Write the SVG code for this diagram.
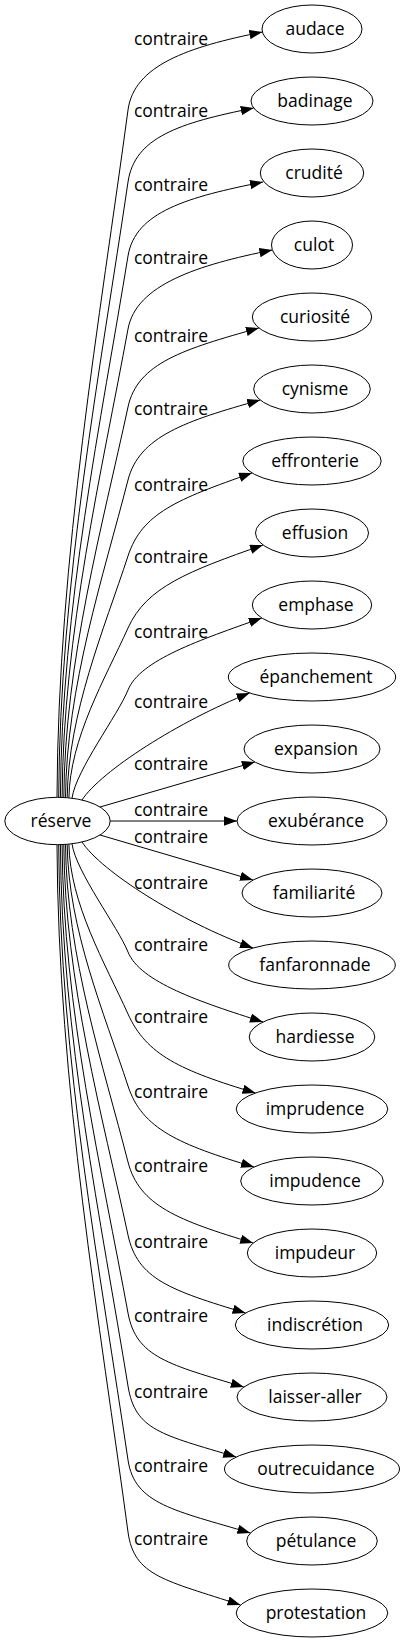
<svg xmlns="http://www.w3.org/2000/svg" width="404" height="1643" viewBox="0 0 404 1643">
<style>
.node ellipse{fill:#fff;stroke:#000;stroke-width:1}
text{font-family:"Open Sans","Noto Sans",sans-serif;font-size:17.5px;text-anchor:middle;fill:#000}
#edges path{fill:none;stroke:#000;stroke-width:1;marker-end:url(#arrow)}
</style>
<defs>
<marker id="arrow" markerUnits="userSpaceOnUse" markerWidth="14" markerHeight="10" refX="13" refY="4.7" orient="auto"><path d="M0,0 L13,4.7 L0,9.4 Z" fill="#000"/></marker>
</defs>
<rect width="404" height="1643" fill="#fff"/>
<g id="edges">
<g id="e0"><path d="M57,797.3 C58,556.7 100.4,316.2 128,110 C134,65.4 187.4,47 262.4,32"/><text x="171" y="45">contraire</text></g>
<g id="e1"><path d="M58.7,797.3 C59.7,581.9 101,366.6 128,182 C134.5,137.5 178.7,123 253.7,108"/><text x="171" y="117">contraire</text></g>
<g id="e2"><path d="M60.4,797.3 C61.4,607.9 101.7,418.4 128,256 C135.2,211.6 188,197 263,182"/><text x="171" y="191">contraire</text></g>
<g id="e3"><path d="M62.1,797.4 C63.1,633.5 102.3,469.5 128,329 C136.1,284.7 197.4,265 272.4,250"/><text x="171" y="264">contraire</text></g>
<g id="e4"><path d="M63.8,797.5 C64.8,660.8 102.9,524.2 128,407 C137.4,363 183.9,349 258.9,328"/><text x="171" y="342">contraire</text></g>
<g id="e5"><path d="M65.5,797.6 C66.5,686.4 103.6,575.3 128,480 C139.2,436.4 185.2,421 260.2,400"/><text x="171" y="415">contraire</text></g>
<g id="e6"><path d="M67.2,797.7 C68.2,713.1 104.3,628.5 128,556 C142,513.2 177,499.3 252,473"/><text x="171" y="491">contraire</text></g>
<g id="e7"><path d="M68.9,797.9 C69.9,738.4 104.9,679 128,628 C146.5,587 188,571.3 263,545"/><text x="171" y="563">contraire</text></g>
<g id="e8"><path d="M72,798.2 C76,770 118,715 128,690 C140,660 200,640 261.8,618"/><text x="171" y="638">contraire</text></g>
<g id="e9"><path d="M82,800 C101,771 179,721 249.6,693"/><text x="171" y="708">contraire</text></g>
<g id="e10"><path d="M100,807 L254.9,762"/><text x="171" y="770">contraire</text></g>
<g id="e11"><path d="M110.2,821 L237,821"/><text x="171" y="816">contraire</text></g>
<g id="e12"><path d="M100,835 L253,880"/><text x="171" y="843">contraire</text></g>
<g id="e13"><path d="M82,842 C101,871 179,921 253,948"/><text x="171" y="889">contraire</text></g>
<g id="e14"><path d="M72,843.8 C76,872 118,927 128,952 C140,982 200,1002 263,1022"/><text x="171" y="951">contraire</text></g>
<g id="e15"><path d="M68.9,844.1 C69.9,903.6 104.9,963 128,1014 C146.5,1055 180.5,1070.5 255.5,1093"/><text x="171" y="1023">contraire</text></g>
<g id="e16"><path d="M67.2,844.3 C68.2,928.9 104.3,1013.5 128,1086 C142,1128.8 179,1144.5 254,1167"/><text x="171" y="1098">contraire</text></g>
<g id="e17"><path d="M65.5,844.4 C66.5,955.6 103.6,1066.7 128,1162 C139.2,1205.6 178.2,1220.5 253.2,1243"/><text x="171" y="1172">contraire</text></g>
<g id="e18"><path d="M63.8,844.5 C64.8,981.2 102.9,1117.8 128,1235 C137.4,1279 170.6,1290.5 245.6,1313"/><text x="171" y="1248">contraire</text></g>
<g id="e19"><path d="M62.1,844.6 C63.1,1008.5 102.3,1172.5 128,1313 C136.1,1357.3 168.8,1364.5 243.8,1387"/><text x="171" y="1322">contraire</text></g>
<g id="e20"><path d="M60.4,844.7 C61.4,1034.1 101.7,1223.6 128,1386 C135.2,1430.4 161.2,1434.5 236.2,1457"/><text x="171" y="1398">contraire</text></g>
<g id="e21"><path d="M58.7,844.7 C59.7,1060.1 101,1275.4 128,1460 C134.5,1504.5 175.4,1510.5 250.4,1533"/><text x="171" y="1472">contraire</text></g>
<g id="e22"><path d="M57,844.7 C58,1085.3 100.4,1325.8 128,1532 C134,1576.6 165.5,1580.2 240.5,1605"/><text x="171" y="1545">contraire</text></g>
</g>
<g id="reserve" class="node"><ellipse cx="57.5" cy="821" rx="52.7" ry="23.7"/><text x="61" y="827">réserve</text></g>
<g id="audace" class="node"><ellipse cx="312" cy="29" rx="50" ry="24"/><text x="315" y="35">audace</text></g>
<g id="badinage" class="node"><ellipse cx="312" cy="101" rx="61" ry="24"/><text x="315" y="107">badinage</text></g>
<g id="crudite" class="node"><ellipse cx="312" cy="173" rx="51.7" ry="24"/><text x="314" y="179">crudité</text></g>
<g id="culot" class="node"><ellipse cx="312" cy="245" rx="40.5" ry="24"/><text x="314" y="251">culot</text></g>
<g id="curiosite" class="node"><ellipse cx="312" cy="317" rx="59.7" ry="24"/><text x="315" y="323">curiosité</text></g>
<g id="cynisme" class="node"><ellipse cx="312" cy="389" rx="58.3" ry="24"/><text x="315" y="395">cynisme</text></g>
<g id="effronterie" class="node"><ellipse cx="312" cy="461" rx="69.2" ry="24"/><text x="315" y="467">effronterie</text></g>
<g id="effusion" class="node"><ellipse cx="312" cy="533" rx="56.5" ry="24"/><text x="315" y="539">effusion</text></g>
<g id="emphase" class="node"><ellipse cx="312" cy="605" rx="59.7" ry="24"/><text x="316" y="611">emphase</text></g>
<g id="epanchement" class="node"><ellipse cx="312" cy="677" rx="83.7" ry="24"/><text x="316" y="683">épanchement</text></g>
<g id="expansion" class="node"><ellipse cx="312" cy="749" rx="68" ry="24"/><text x="316" y="755">expansion</text></g>
<g id="exuberance" class="node"><ellipse cx="312" cy="821" rx="75" ry="24"/><text x="316" y="827">exubérance</text></g>
<g id="familiarite" class="node"><ellipse cx="312" cy="893" rx="70" ry="24"/><text x="314" y="899">familiarité</text></g>
<g id="fanfaronnade" class="node"><ellipse cx="312" cy="965" rx="83.3" ry="24"/><text x="315" y="971">fanfaronnade</text></g>
<g id="hardiesse" class="node"><ellipse cx="312" cy="1037" rx="62.8" ry="24"/><text x="315" y="1043">hardiesse</text></g>
<g id="imprudence" class="node"><ellipse cx="312" cy="1109" rx="75.8" ry="24"/><text x="315" y="1115">imprudence</text></g>
<g id="impudence" class="node"><ellipse cx="312" cy="1181" rx="71.3" ry="24"/><text x="315" y="1187">impudence</text></g>
<g id="impudeur" class="node"><ellipse cx="312" cy="1253" rx="64.7" ry="24"/><text x="315" y="1259">impudeur</text></g>
<g id="indiscretion" class="node"><ellipse cx="312" cy="1325" rx="76.7" ry="24"/><text x="315" y="1331">indiscrétion</text></g>
<g id="laisser-aller" class="node"><ellipse cx="312" cy="1397" rx="75" ry="24"/><text x="315" y="1403">laisser-aller</text></g>
<g id="outrecuidance" class="node"><ellipse cx="312" cy="1469" rx="87.5" ry="24"/><text x="316" y="1475">outrecuidance</text></g>
<g id="petulance" class="node"><ellipse cx="312" cy="1541" rx="65.3" ry="24"/><text x="316" y="1547">pétulance</text></g>
<g id="protestation" class="node"><ellipse cx="312" cy="1613" rx="75.8" ry="24"/><text x="316" y="1619">protestation</text></g>
</svg>
